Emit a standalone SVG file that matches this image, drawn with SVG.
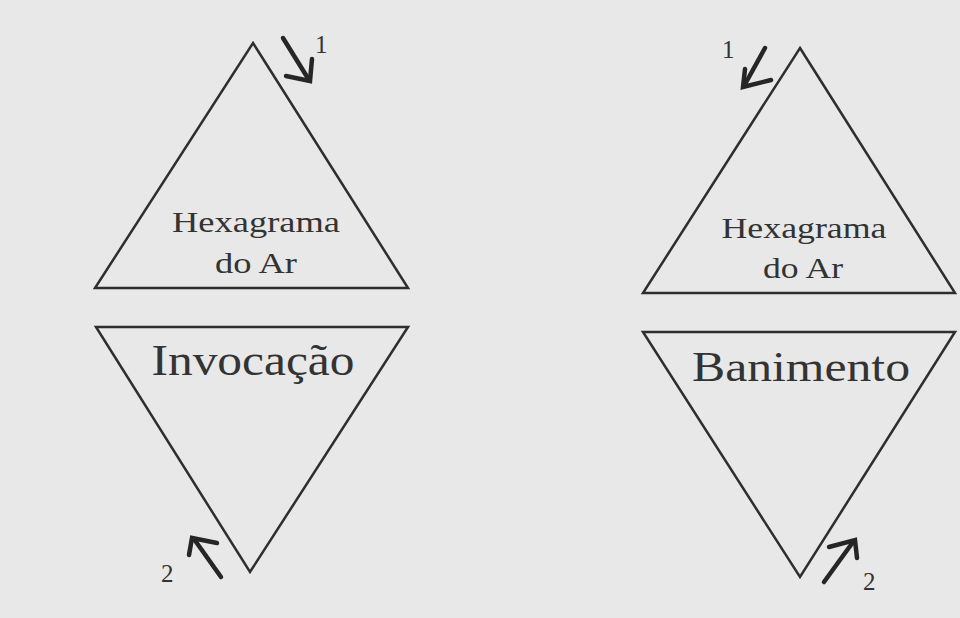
<svg xmlns="http://www.w3.org/2000/svg" width="960" height="618" viewBox="0 0 960 618">
<style>
.tri{fill:none;stroke:#2e2e2e;stroke-width:2.5;stroke-linejoin:miter}
.arr{fill:none;stroke:#262626;stroke-width:4.5;stroke-linecap:round;stroke-linejoin:miter}
.lbl{font-family:"Liberation Serif","Times New Roman",serif;fill:#333}
.num{font-family:"Liberation Serif","Times New Roman",serif;fill:#333;font-size:25px}
</style>
<rect width="960" height="618" fill="#e8e8e8"/>
<g id="left-upper">
<polygon class="tri" points="253,43 408,288 95,288"/>
<text class="lbl" x="256" y="232" font-size="30" text-anchor="middle" textLength="168" lengthAdjust="spacingAndGlyphs">Hexagrama</text>
<text class="lbl" x="256" y="273" font-size="30" text-anchor="middle" textLength="82" lengthAdjust="spacingAndGlyphs">do Ar</text>
</g>
<g id="left-lower">
<polygon class="tri" points="96,327 408,327 250,572"/>
<text class="lbl" x="253" y="375" font-size="44" text-anchor="middle" textLength="203" lengthAdjust="spacingAndGlyphs">Invocação</text>
</g>
<g id="right-upper">
<polygon class="tri" points="800,48 955,293 643,293"/>
<text class="lbl" x="804" y="238" font-size="30" text-anchor="middle" textLength="165" lengthAdjust="spacingAndGlyphs">Hexagrama</text>
<text class="lbl" x="803" y="278" font-size="30" text-anchor="middle" textLength="80" lengthAdjust="spacingAndGlyphs">do Ar</text>
</g>
<g id="right-lower">
<polygon class="tri" points="643,332 955,332 800,577"/>
<text class="lbl" x="801" y="381" font-size="42" text-anchor="middle" textLength="218" lengthAdjust="spacingAndGlyphs">Banimento</text>
</g>
<g id="connectors">
<path class="arr" d="M283,38 L309,80"/>
<path class="arr" d="M286,76 L310,81 L312,59"/>
<path class="arr" d="M765,48 L744,86"/>
<path class="arr" d="M745,69 L743,87 L771,80"/>
<path class="arr" d="M221,577 L194,539"/>
<path class="arr" d="M189,555 L192,538 L217,543"/>
<path class="arr" d="M824,582 L853,542"/>
<path class="arr" d="M829,547 L855,540 L857,558"/>
</g>
<g id="labels">
<text class="num" x="315" y="53">1</text>
<text class="num" x="722" y="58">1</text>
<text class="num" x="161" y="582">2</text>
<text class="num" x="863" y="590" font-family="Liberation Sans, Arial, sans-serif">2</text>
</g>
</svg>
